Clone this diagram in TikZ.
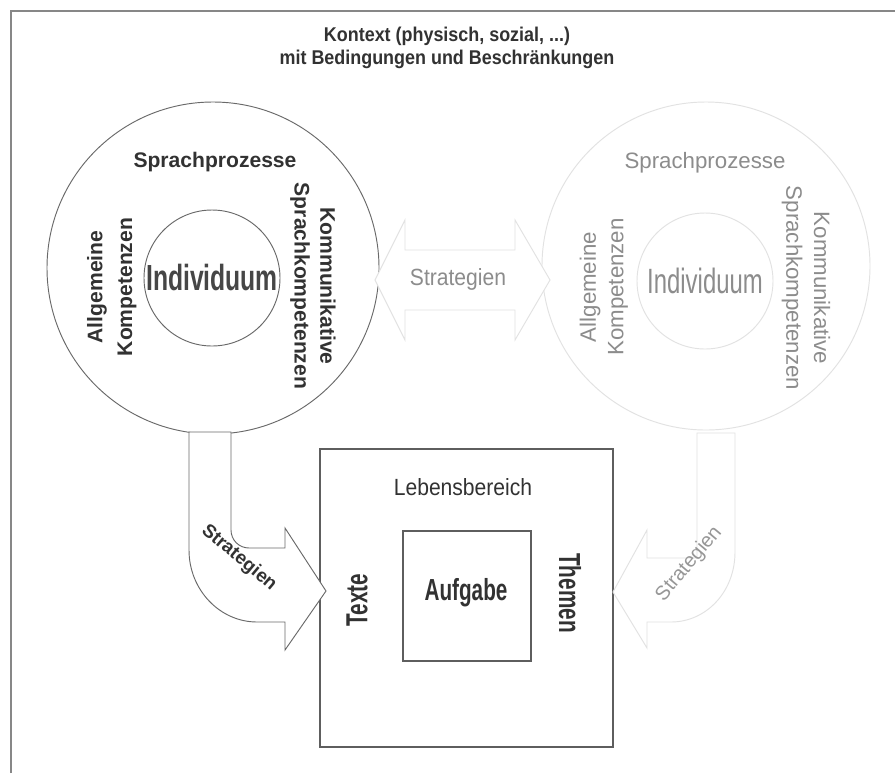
\documentclass[tikz,border=0pt]{standalone}
\usepackage{fontspec}
\setmainfont{Liberation Sans}
\newfontfamily\condfont[FakeStretch=0.68]{Liberation Sans}
\newfontfamily\midfont[FakeStretch=0.9]{Liberation Sans}
\usetikzlibrary{math}
\definecolor{darkline}{RGB}{105,105,105}
\definecolor{darktext}{RGB}{50,50,50}
\definecolor{paleline}{RGB}{226,226,226}
\definecolor{paletext}{RGB}{140,140,140}

\begin{document}
\begin{tikzpicture}[x=0.03cm, y=-0.03cm,
  dark/.style={draw=darkline, line width=0.8pt},
  pale/.style={draw=paleline, line width=0.8pt},
  lbl/.style={inner sep=0pt, font=\fontsize{18}{21}\selectfont},
  darklbl/.style={lbl, text=darktext, font=\fontsize{18}{21}\selectfont\bfseries},
  palelbl/.style={lbl, text=paletext, font=\fontsize{19}{22}\selectfont},
  biglbl/.style={inner sep=0pt, font=\condfont\fontsize{26}{30}\selectfont\bfseries, text=darktext}]
\tikzmath{
\R=166;
\r=68;
}
\useasboundingbox (0,0) rectangle (895,773);
\fill[white] (0,0) rectangle (895,773);
\draw[draw=darkline!80, line width=0.9pt] (11,773) -- (11,11) -- (895,11);

\node[inner sep=0pt, align=center, text=darktext,
  font=\midfont\fontsize{17}{20}\selectfont\bfseries] (title) at (447,48)
  {Kontext (physisch, sozial, ...)\\mit Bedingungen und Beschränkungen};

% left circle
\coordinate (LC) at (213,268);
\coordinate (LI) at (212,278);
\draw[dark] (LC) circle[radius=\R];
\draw[dark] (LI) circle[radius=\r];
\node[darklbl] (lproc) at (215,162) {Sprachprozesse};
\node[darklbl, rotate=90] (lall) at (97,287) {Allgemeine};
\node[darklbl, rotate=90] (lkomp) at (127,287) {Kompetenzen};
\node[darklbl, rotate=-90] (lkomm) at (328,286) {Kommunikative};
\node[darklbl, rotate=-90] (lsprk) at (300,286) {Sprachkompetenzen};
\node[inner sep=0pt, text=darktext!90, font=\condfont\fontsize{31}{34}\selectfont\bfseries]
  (lind) at (LI) {Individuum};

% right circle
\coordinate (RC) at (706,266);
\coordinate (RI) at (705,281);
\draw[pale] (RC) circle[radius=164];
\draw[pale] (RI) circle[radius=\r];
\node[palelbl] (rproc) at (705,163) {Sprachprozesse};
\node[palelbl, rotate=90] (rall) at (590,287) {Allgemeine};
\node[palelbl, rotate=90] (rkomp) at (618,287) {Kompetenzen};
\node[palelbl, rotate=-90] (rkomm) at (822,288) {Kommunikative};
\node[palelbl, rotate=-90] (rsprk) at (792,288) {Sprachkompetenzen};
\node[inner sep=0pt, text=paletext, font=\condfont\fontsize{30}{34}\selectfont]
  (rind) at (RI) {Individuum};

% double arrow
\draw[pale, fill=white] (375,280) -- (405,220) -- (405,250) -- (515,250) -- (515,220)
  -- (550,280) -- (515,340) -- (515,310) -- (405,310) -- (405,340) -- cycle;
\node[inner sep=0pt, text=paletext, font=\midfont\fontsize{20}{24}\selectfont]
  (mstrat) at (458,279) {Strategien};

% Lebensbereich
\draw[draw=darkline!90!black, line width=0.9pt] (320,449) rectangle (613,747);
\draw[draw=darkline!90!black, line width=0.9pt] (403,531) rectangle (531,661);
\node[inner sep=0pt, text=darktext, font=\midfont\fontsize{20}{24}\selectfont] (leben) at (463,487) {Lebensbereich};
\node[biglbl] (aufg) at (466,593) {Aufgabe};
\node[biglbl, rotate=90] (texte) at (357,600) {Texte};
\node[biglbl, rotate=-90] (themen) at (570,593) {Themen};

% curved arrows
\draw[dark, fill=white] (189,432) -- (189,550) .. controls (189,590) and (220,622) .. (257,622)
  -- (285,622) -- (285,650) -- (326,591) -- (285,528) -- (285,548) -- (249,548)
  .. controls (239,548) and (231,540) .. (231,530) -- (231,432) -- cycle;
\node[inner sep=0pt, text=darktext, font=\fontsize{16}{19}\selectfont\bfseries, rotate=-40]
  (lstrat) at (239,558) {Strategien};

\draw[pale, fill=white] (735,433) -- (735,552) .. controls (735,592) and (706,622) .. (671,622)
  -- (647,622) -- (647,648) -- (613,592) -- (647,530) -- (647,558) -- (697,558)
  -- (697,433) -- cycle;
\node[inner sep=0pt, text=paletext!90, font=\fontsize{17}{20}\selectfont, rotate=50]
  (rstrat) at (689,564) {Strategien};
\end{tikzpicture}
\end{document}
